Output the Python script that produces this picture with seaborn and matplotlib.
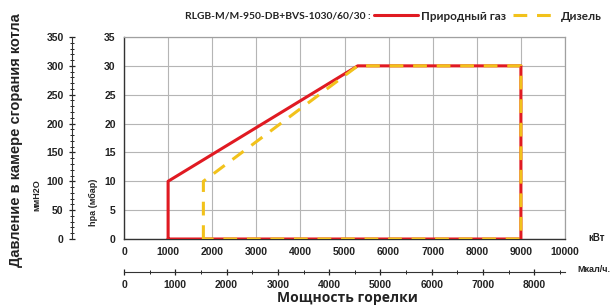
import matplotlib
matplotlib.use("Agg")
import matplotlib.pyplot as plt
import seaborn as sns
import pandas as pd
from matplotlib.ticker import MultipleLocator

# Data (kW, hPa)
gas_kw = [1000, 1000, 5300, 9000, 9000, 1000]
gas_hpa = [0, 10, 30, 30, 0, 0]
diesel_kw = [1800, 1800, 5300, 9000, 9000, 1800]
diesel_hpa = [0, 10, 30, 30, 0, 0]
series_names = ["Природный газ", "Дизель"]
title_text = "RLGB-M/M-950-DB+BVS-1030/60/30 :"

sns.set_style("white")
plt.rcParams['font.family'] = ['Liberation Sans', 'DejaVu Sans']

RED = "#e01a22"
YEL = "#f2c21b"

fig = plt.figure(figsize=(6.13, 3.08), dpi=100)
ax = fig.add_axes([124/613, 1-239/308, 441/613, 202/308])

df_gas = pd.DataFrame({"kw": gas_kw, "hpa": gas_hpa})
df_die = pd.DataFrame({"kw": diesel_kw, "hpa": diesel_hpa})

sns.lineplot(data=df_gas, x="kw", y="hpa", sort=False, estimator=None, ax=ax,
             color=RED, lw=2.2, label=series_names[0], zorder=3)
sns.lineplot(data=df_die, x="kw", y="hpa", sort=False, estimator=None, ax=ax,
             color=YEL, lw=2.2, label=series_names[1], zorder=4, dashes=False)
ax.lines[1].set_dashes([4.5, 3.2])

ax.set_xlim(0, 10000)
ax.set_ylim(0, 35)
ax.xaxis.set_major_locator(MultipleLocator(1000))
ax.xaxis.set_minor_locator(MultipleLocator(500))
ax.yaxis.set_major_locator(MultipleLocator(5))
ax.yaxis.set_minor_locator(MultipleLocator(1))
ax.grid(True, which='major', color="#b5b5b5", lw=0.8, zorder=0)
ax.set_axisbelow(True)

for s in ["top", "right"]:
    ax.spines[s].set_color("#a0a0a0")
    ax.spines[s].set_linewidth(0.9)
for s in ["left", "bottom"]:
    ax.spines[s].set_color("#333333")
    ax.spines[s].set_linewidth(1.0)

tick_kw = dict(labelsize=7.5, colors="#222222", direction='inout')
ax.tick_params(axis='both', which='major', length=5, width=0.9, **tick_kw)
ax.tick_params(axis='both', which='minor', length=3, width=0.7, direction='inout', colors="#222222")
for lab in ax.get_xticklabels() + ax.get_yticklabels():
    lab.set_fontweight('bold')

ax.set_xlabel("")
ax.set_ylabel("hpa (мбар)", fontsize=6.5, fontweight='bold', labelpad=4)
ax.yaxis.set_label_coords(-0.06, 0.18)

ax.legend_.remove()

# Secondary left axis (mmH2O)
sec_y = ax.secondary_yaxis(-52/441, functions=(lambda y: y*10, lambda y: y/10))
sec_y.yaxis.set_major_locator(MultipleLocator(50))
sec_y.yaxis.set_minor_locator(MultipleLocator(10))
sec_y.tick_params(which='major', length=5, width=0.9, labelsize=7.5, direction='inout', colors="#222222")
sec_y.tick_params(which='minor', length=3, width=0.7, direction='inout', colors="#222222")
sec_y.spines['left'].set_color("#333333")
for lab in sec_y.get_yticklabels():
    lab.set_fontweight('bold')

# Secondary bottom axis (Mcal/h)
sec_x = ax.secondary_xaxis(-33/202, functions=(lambda x: x/1.163, lambda x: x*1.163))
sec_x.xaxis.set_major_locator(MultipleLocator(1000))
sec_x.xaxis.set_minor_locator(MultipleLocator(500))
sec_x.tick_params(which='major', length=5, width=0.9, labelsize=7.5, direction='inout', colors="#222222")
sec_x.tick_params(which='minor', length=3, width=0.7, direction='inout', colors="#222222")
sec_x.spines['bottom'].set_color("#333333")
for lab in sec_x.get_xticklabels():
    lab.set_fontweight('bold')

# Unit labels
fig.text(588/613, 1-238/308, "кВт", fontsize=7, fontweight='bold', ha='left', va='center', color="#222222")
fig.text(577/613, 1-270/308, "Мкал/ч.", fontsize=6.5, fontweight='bold', ha='left', va='center', color="#222222")
fig.text(347/613, 1-298/308, "Мощность горелки", fontsize=10, fontweight='bold', ha='center', va='center',
         family=['Open Sans', 'DejaVu Sans'], color="#222222")
fig.text(16/613, 1-140/308, "Давление в камере сгорания котла", fontsize=10.5, fontweight='bold',
         rotation=90, ha='center', va='center', color="#222222")
fig.text(37/613, 1-195/308, "ммН2О", fontsize=6.5, fontweight='bold',
         rotation=90, ha='center', va='center', color="#222222")

# Title + inline legend
fig.text(371/613, 1-16/308, title_text, fontsize=7.4, fontweight='bold', ha='right', va='center',
         family=['Lato', 'DejaVu Sans'], color="#222222")
handles = [ax.lines[0], ax.lines[1]]
leg = fig.legend(handles, series_names, loc='center left', bbox_to_anchor=(374/613, 1-16/308),
                 ncol=2, frameon=False, handlelength=3.7, handletextpad=0.3, columnspacing=0.6,
                 prop={'family': ['Lato', 'DejaVu Sans'], 'weight': 'bold', 'size': 8.5},
                 borderaxespad=0, borderpad=0)

fig.savefig("out.png", dpi=100, facecolor="white")
